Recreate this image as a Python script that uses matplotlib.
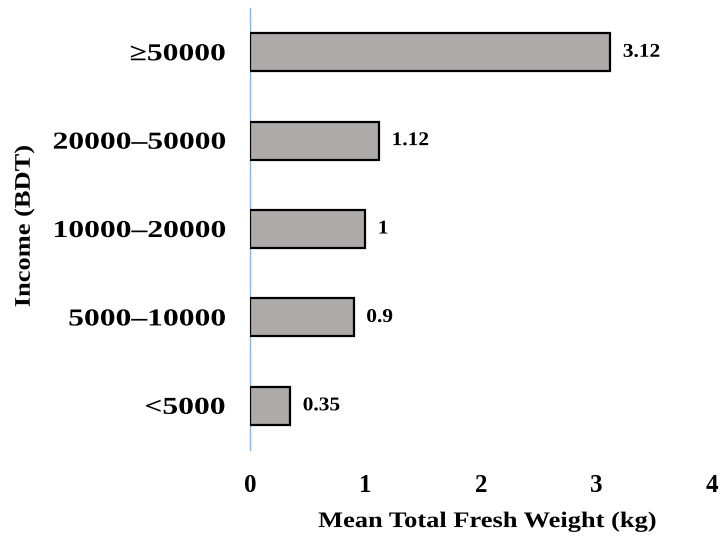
import matplotlib
matplotlib.use("Agg")
import matplotlib.pyplot as plt
from matplotlib.patheffects import AbstractPathEffect
from matplotlib.transforms import Affine2D

categories = ["<5000", "5000\u201310000", "10000\u201320000", "20000\u201350000", "\u226550000"]
values = [0.35, 0.9, 1.0, 1.12, 3.12]
value_labels = ["0.35", "0.9", "1", "1.12", "3.12"]
xticks = [0, 1, 2, 3, 4]


class StretchX(AbstractPathEffect):
    """Stretch text glyphs along the text direction about an anchor."""
    def __init__(self, sx, anchor='center'):
        super().__init__()
        self.sx = sx
        self.anchor = anchor

    def draw_path(self, renderer, gc, tpath, affine, rgbFace=None):
        ext = tpath.get_extents()
        if self.anchor == 'right':
            a = ext.x1
        elif self.anchor == 'left':
            a = ext.x0
        else:
            a = 0.5 * (ext.x0 + ext.x1)
        t = Affine2D().translate(-a, 0).scale(self.sx, 1).translate(a, 0) + affine
        renderer.draw_path(gc, tpath, t, rgbFace)


plt.rcParams['font.family'] = ['Liberation Serif', 'DejaVu Serif']
plt.rcParams['font.weight'] = 'bold'

fig = plt.figure(figsize=(7.2, 5.37), dpi=100)
ax = fig.add_axes([0.347, 0.162, 0.642, 0.823])

y = list(range(len(categories)))
ax.barh(y, values, height=0.43, color='#AEAAAA', edgecolor='black', linewidth=1.6, zorder=3)
for yi, v, lab in zip(y, values, value_labels):
    ax.annotate(lab, xy=(v, yi), xytext=(9, 0), textcoords='offset points',
                va='center', ha='left', fontsize=14, fontweight='bold',
                path_effects=[StretchX(1.1, 'left')])

ax.set_xlim(0, 4)
ax.set_ylim(-0.5, 4.5)
ax.set_xticks(xticks)
ax.set_xticklabels([str(t) for t in xticks], fontsize=18, fontweight='bold')
ax.set_yticks(y)
ax.set_yticklabels(categories, fontsize=17.5, fontweight='bold')
for t in ax.get_yticklabels():
    t.set_path_effects([StretchX(1.3, 'right')])
ax.tick_params(axis='both', length=0)
ax.tick_params(axis='x', pad=17)
ax.tick_params(axis='y', pad=18)

for s in ['top', 'right', 'bottom']:
    ax.spines[s].set_visible(False)
ax.spines['left'].set_color('#8EB4E3')
ax.spines['left'].set_linewidth(1.0)

ax.set_xlabel("Mean Total Fresh Weight (kg)", fontsize=16, fontweight='bold',
              path_effects=[StretchX(1.19, 'center')])
ax.xaxis.set_label_coords(0.515, -0.163)
ax.xaxis.label.set_va('center')
ax.set_ylabel("Income (BDT)", fontsize=16, fontweight='bold',
              path_effects=[StretchX(1.19, 'center')])
ax.yaxis.set_label_coords(-0.487, 0.507)
ax.yaxis.label.set_va('center')

fig.savefig("out.png", dpi=100)
